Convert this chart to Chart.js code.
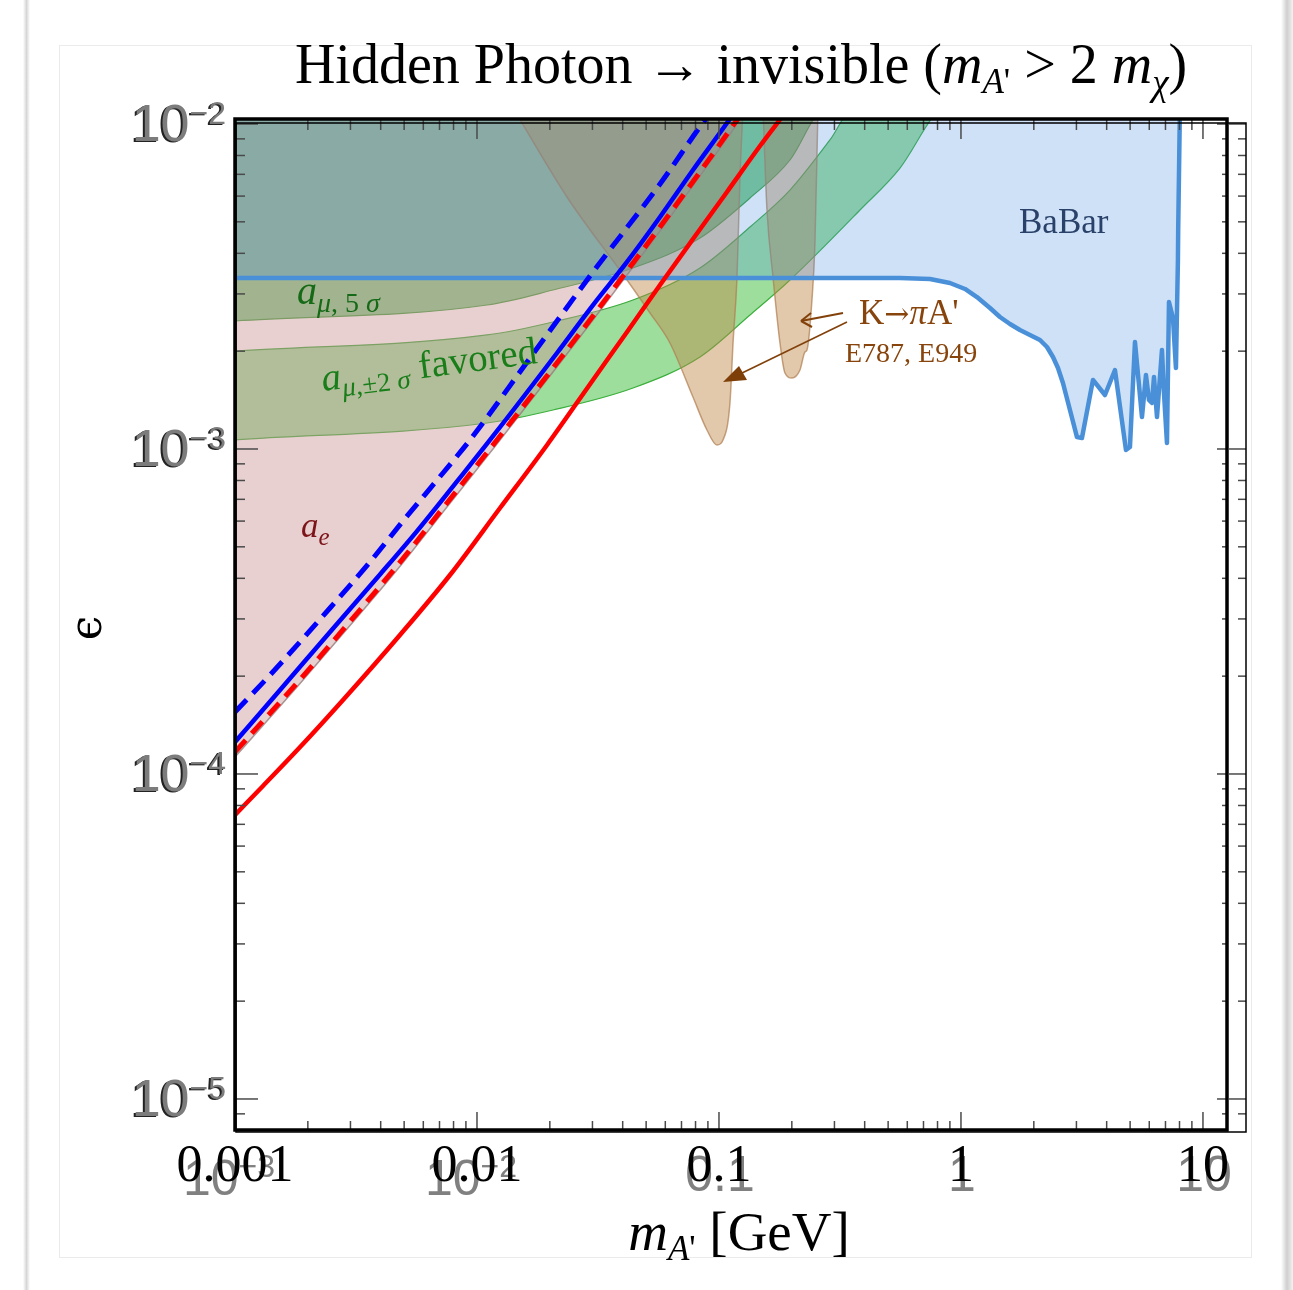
<!DOCTYPE html>
<html>
<head>
<meta charset="utf-8">
<script src="https://cdn.jsdelivr.net/npm/chart.js@4.4.0/dist/chart.umd.min.js"></script>
<style>
  html, body { margin: 0; padding: 0; background: #fff; }
  #wrap { position: relative; width: 1293px; height: 1290px; overflow: hidden; }
  .edgeL { position: absolute; left: 23px; top: 0; width: 7px; height: 1290px; background: linear-gradient(to right, #fff, #d6d6d6, #fff); }
  .edgeR { position: absolute; left: 1281px; top: 0; width: 12px; height: 1290px; background: linear-gradient(to right, #fff, #cfcfcf, #f2f2f2); }
  .card { position: absolute; left: 59px; top: 45px; width: 1191px; height: 1211px; border: 1px solid #ebebeb; }
  canvas { position: absolute; left: 0; top: 0; }
</style>
</head>
<body>
<div id="wrap">
  <div class="edgeL"></div><div class="edgeR"></div><div class="card"></div>
  <canvas id="chart" width="1293" height="1290"></canvas>
</div>
<script>
// sensitivity curves (m_A' in GeV, epsilon)
const blueDashedX = [0.001, 0.001395, 0.00247, 0.003612, 0.004945, 0.007236, 0.009356, 0.01656, 0.03015, 0.05705, 0.0875, 0.0915];
const blueDashedY = [1.552e-4, 2.016e-4, 3.242e-4, 4.490e-4, 6.003e-4, 8.437e-4, 1.066e-3, 1.905e-3, 3.504e-3, 6.538e-3, 1.029e-2, 1.073e-2];

const blueSolidX = [0.001, 0.001535, 0.00247, 0.003973, 0.005651, 0.00827, 0.01132, 0.02141, 0.03015, 0.04168, 0.05705, 0.07808, 0.1079, 0.1145];
const blueSolidY = [1.254e-4, 1.813e-4, 2.735e-4, 4.110e-4, 5.590e-4, 7.950e-4, 1.066e-3, 1.974e-3, 2.773e-3, 3.762e-3, 5.173e-3, 7.218e-3, 1.007e-2, 1.073e-2];

const redDashedX = [0.001, 0.001804, 0.002903, 0.00467, 0.007516, 0.01209, 0.02203, 0.03015, 0.04168, 0.05705, 0.08345, 0.1187, 0.1235];
const redDashedY = [1.169e-4, 1.905e-4, 2.873e-4, 4.365e-4, 6.820e-4, 1.066e-3, 1.891e-3, 2.566e-3, 3.529e-3, 4.820e-3, 7.116e-3, 1.029e-2, 1.073e-2];

const redSolidX = [0.001, 0.001305, 0.001858, 0.002795, 0.004806, 0.007734, 0.01245, 0.01948, 0.03015, 0.04168, 0.05705, 0.07808, 0.1079, 0.1477, 0.1821];
const redSolidY = [7.482e-5, 9.186e-5, 1.210e-4, 1.689e-4, 2.677e-4, 4.095e-4, 6.582e-4, 1.029e-3, 1.631e-3, 2.291e-3, 3.195e-3, 4.427e-3, 6.177e-3, 8.556e-3, 1.051e-2];

// excluded / favoured regions
const aeX = [0.001, 0.001804, 0.002903, 0.00467, 0.007516, 0.01209, 0.02203, 0.03015, 0.04168, 0.05705, 0.08345, 0.1187, 0.128];
const aeY = [1.128e-4, 1.852e-4, 2.794e-4, 4.242e-4, 6.629e-4, 1.036e-3, 1.839e-3, 2.494e-3, 3.430e-3, 4.685e-3, 6.918e-3, 1.0e-2, 0.0109];

const mu5X = [0.001, 0.0110, 0.02061, 0.0441, 0.08345, 0.1343, 0.1965, 0.2664, 0.3];
const mu5Y = [2.476e-3, 2.773e-3, 3.084e-3, 3.605e-3, 4.458e-3, 5.920e-3, 7.748e-3, 0.0112, 0.0115];

const mu2UpX = [0.001, 0.0110, 0.02061, 0.0441, 0.08345, 0.1343, 0.1965, 0.2875, 0.36, 0.9];
const mu2UpY = [2.002e-3, 2.243e-3, 2.459e-3, 2.873e-3, 3.605e-3, 4.820e-3, 6.263e-3, 8.93e-3, 0.0112, 0.0115];

const mu2LoX = [0.001, 0.0110, 0.02061, 0.0441, 0.08345, 0.1343, 0.1965, 0.3825, 0.5597, 0.82, 0.9];
const mu2LoY = [1.067e-3, 1.202e-3, 1.318e-3, 1.540e-3, 1.919e-3, 2.584e-3, 3.311e-3, 5.436e-3, 7.321e-3, 0.0112, 0.0115];

const kLeftX = [0.01409, 0.02354, 0.04168, 0.05188, 0.06272, 0.07808, 0.08919, 0.0981, 0.1039, 0.111, 0.1143, 0.1187, 0.1221, 0.1257];
const kLeftY = [0.0112, 5.963e-3, 3.311e-3, 2.621e-3, 2.119e-3, 1.445e-3, 1.144e-3, 1.029e-3, 1.066e-3, 1.385e-3, 2.119e-3, 3.382e-3, 6.868e-3, 0.0112];

const kRightX = [0.152, 0.1579, 0.1672, 0.1787, 0.1874, 0.2002, 0.2161, 0.2266, 0.231, 0.2422, 0.2492, 0.2565];
const kRightY = [0.0112, 5.436e-3, 3.382e-3, 2.119e-3, 1.713e-3, 1.654e-3, 1.750e-3, 1.988e-3, 2.016e-3, 2.873e-3, 4.302e-3, 0.0112];

const babarX = [0.001, 0.5597, 0.7447, 0.9006, 1.039, 1.164, 1.318, 1.449, 1.594, 1.753, 1.928, 2.121, 2.267, 2.400, 2.517, 2.639, 2.821, 3.016, 3.162, 3.512, 3.936, 4.329, 4.806, 4.992, 5.236, 5.597, 5.814, 5.983, 6.157, 6.275, 6.457, 6.770, 6.900, 7.100, 7.237, 7.516, 7.733, 7.88, 7.90, 8.035];
const babarY = [3.358e-3, 3.358e-3, 3.335e-3, 3.242e-3, 3.107e-3, 2.935e-3, 2.715e-3, 2.548e-3, 2.424e-3, 2.323e-3, 2.243e-3, 2.165e-3, 2.060e-3, 1.919e-3, 1.775e-3, 1.596e-3, 1.318e-3, 1.088e-3, 1.081e-3, 1.631e-3, 1.466e-3, 1.750e-3, 9.93e-4, 1.014e-3, 2.134e-3, 1.254e-3, 1.689e-3, 1.415e-3, 1.385e-3, 1.665e-3, 1.254e-3, 2.016e-3, 1.487e-3, 1.043e-3, 2.834e-3, 2.530e-3, 1.775e-3, 3.815e-3, 4.720e-3, 0.0115];

// axis ticks
const xTickValues = [0.001, 0.01, 0.1, 1, 10];
const xTickLabels = ['0.001', '0.01', '0.1', '1', '10'];
const xTickShadowBase = ['10', '10', '0.1', '1', '10'];
const xTickShadowExps = ['\u22123', '\u22122', '', '', ''];
const yTickValues = [1e-5, 1e-4, 1e-3, 1e-2];
const yTickExps = ['\u22125', '\u22124', '\u22123', '\u22122'];

const serif = '"Liberation Serif","Times New Roman",serif';
const sans = '"Liberation Sans",Arial,sans-serif';

function pts(xs, ys) { return xs.map((x, i) => ({x: x, y: ys[i]})); }

function runsWidth(ctx, runs) {
  let w = 0;
  for (const r of runs) { ctx.font = r.f; w += ctx.measureText(r.t).width; }
  return w;
}
function drawRuns(ctx, x, y, runs, align) {
  const w = runsWidth(ctx, runs);
  let cx = align === 'center' ? x - w / 2 : align === 'right' ? x - w : x;
  ctx.textAlign = 'left';
  ctx.textBaseline = 'alphabetic';
  for (const r of runs) {
    ctx.font = r.f;
    ctx.fillText(r.t, cx, y + (r.dy || 0));
    cx += ctx.measureText(r.t).width;
  }
}

const minorOf = (majors, lo, hi) => {
  const out = [];
  for (const m of majors) for (let k = 2; k <= 9; k++) { const v = m * k; if (v > lo && v < hi) out.push(v); }
  return out;
};

const decor = {
  id: 'decor',
  afterDraw(chart) {
    const {ctx, chartArea: a, scales: {x, y}} = chart;
    ctx.save();

    // ticks
    ctx.strokeStyle = '#4a4a4a';
    ctx.lineWidth = 1.5;
    const xMin = minorOf([0.001, 0.01, 0.1, 1, 10], x.min, x.max);
    const yMin = minorOf([1e-6, 1e-5, 1e-4, 1e-3], y.min, y.max);
    const seg = (x1, y1, x2, y2) => { ctx.beginPath(); ctx.moveTo(x1, y1); ctx.lineTo(x2, y2); ctx.stroke(); };
    for (const v of xTickValues) {
      const p = x.getPixelForValue(v);
      seg(p, a.bottom, p, a.bottom - 18);
      seg(p, a.top, p, a.top + 20);
    }
    for (const v of xMin) {
      const p = x.getPixelForValue(v);
      seg(p, a.bottom, p, a.bottom - 9);
      seg(p, a.top, p, a.top + 11);
    }
    const outerR = 1246;
    for (const v of yTickValues) {
      const p = y.getPixelForValue(v);
      seg(a.left, p, a.left + 23, p);
      seg(a.right, p, a.right - 10, p);
      seg(outerR, p, outerR - 17, p);
    }
    for (const v of yMin) {
      const p = y.getPixelForValue(v);
      seg(a.left, p, a.left + 10, p);
      seg(a.right, p, a.right - 5, p);
      seg(outerR, p, outerR - 8, p);
    }

    // frames
    ctx.strokeStyle = '#000';
    ctx.lineWidth = 1.5;
    ctx.strokeRect(a.left + 1, a.top + 4, outerR - a.left - 1, a.bottom + 2 - a.top - 4);
    ctx.lineWidth = 3.5;
    ctx.strokeRect(a.left, a.top, a.right - a.left, a.bottom - a.top);

    // y tick labels
    for (let i = 0; i < yTickValues.length; i++) {
      const p = y.getPixelForValue(yTickValues[i]);
      const runs = [{t: '10', f: `52px ${sans}`}, {t: yTickExps[i], f: `32px ${sans}`, dy: -17}];
      ctx.fillStyle = '#222';
      drawRuns(ctx, 224, p + 18, runs, 'right');
      ctx.fillStyle = '#7c7c7c';
      drawRuns(ctx, 226, p + 17, runs, 'right');
    }

    // x tick labels (grey overlay and black)
    for (let i = 0; i < xTickValues.length; i++) {
      const p = x.getPixelForValue(xTickValues[i]);
      ctx.fillStyle = '#808080';
      if (xTickShadowExps[i]) {
        drawRuns(ctx, p - 6, 1195, [{t: xTickShadowBase[i], f: `50px ${sans}`}, {t: xTickShadowExps[i], f: `32px ${sans}`, dy: -18}], 'center');
      } else {
        drawRuns(ctx, p + 1, 1191, [{t: xTickShadowBase[i], f: `50px ${sans}`}], 'center');
      }
      ctx.fillStyle = '#000';
      drawRuns(ctx, p, 1181, [{t: xTickLabels[i], f: `52px ${serif}`}], 'center');
    }

    // title
    ctx.fillStyle = '#000';
    drawRuns(ctx, 741, 83, [
      {t: 'Hidden Photon \u2192 invisible (', f: `56px ${serif}`},
      {t: 'm', f: `italic 56px ${serif}`},
      {t: 'A', f: `italic 35px ${serif}`, dy: 10},
      {t: "'", f: `35px ${serif}`, dy: 10},
      {t: ' > 2 ', f: `56px ${serif}`},
      {t: 'm', f: `italic 56px ${serif}`},
      {t: '\u03c7', f: `italic 37px ${serif}`, dy: 12},
      {t: ')', f: `56px ${serif}`}
    ], 'center');

    // axis titles
    drawRuns(ctx, 739, 1250, [
      {t: 'm', f: `italic 55px ${serif}`},
      {t: 'A', f: `italic 35px ${serif}`, dy: 10},
      {t: "'", f: `35px ${serif}`, dy: 10},
      {t: ' [GeV]', f: `55px ${serif}`}
    ], 'center');
    ctx.save();
    ctx.translate(90, 628);
    ctx.rotate(-Math.PI / 2);
    ctx.font = `44px "DejaVu Serif", serif`;
    ctx.textAlign = 'center';
    ctx.textBaseline = 'middle';
    ctx.fillText('\u03f5', 0, 0);
    ctx.restore();

    // region labels
    ctx.fillStyle = 'rgb(42,66,105)';
    drawRuns(ctx, 1019, 233, [{t: 'BaBar', f: `35px ${serif}`}], 'left');

    ctx.fillStyle = 'rgb(135,68,12)';
    drawRuns(ctx, 859, 324, [
      {t: 'K', f: `35px ${serif}`},
      {t: '\u2192', f: `30px "DejaVu Serif", serif`},
      {t: '\u03c0', f: `italic 35px ${serif}`},
      {t: "A'", f: `35px ${serif}`}
    ], 'left');
    drawRuns(ctx, 845, 362, [{t: 'E787, E949', f: `28px ${serif}`}], 'left');

    // arrows
    ctx.strokeStyle = 'rgb(130,65,10)';
    ctx.lineWidth = 2;
    seg(843, 313, 801, 321);
    seg(801, 321, 811, 313);
    seg(801, 321, 812, 327);
    ctx.lineWidth = 1.6;
    seg(847, 322, 740, 374);
    ctx.fillStyle = 'rgb(125,62,8)';
    ctx.beginPath();
    ctx.moveTo(723, 382);
    ctx.lineTo(739, 366);
    ctx.lineTo(747, 380);
    ctx.closePath();
    ctx.fill();

    ctx.fillStyle = 'rgb(22,105,22)';
    drawRuns(ctx, 297, 304, [
      {t: 'a', f: `italic 40px ${serif}`},
      {t: '\u03bc', f: `italic 28px ${serif}`, dy: 8},
      {t: ', 5 ', f: `28px ${serif}`, dy: 8},
      {t: '\u03c3', f: `italic 28px ${serif}`, dy: 8}
    ], 'left');

    ctx.save();
    ctx.translate(323, 391);
    ctx.rotate(-7.4 * Math.PI / 180);
    ctx.fillStyle = 'rgb(25,125,25)';
    drawRuns(ctx, 0, 0, [
      {t: 'a', f: `italic 39px ${serif}`},
      {t: '\u03bc', f: `italic 27px ${serif}`, dy: 8},
      {t: ',\u00b12 ', f: `27px ${serif}`, dy: 8},
      {t: '\u03c3', f: `italic 27px ${serif}`, dy: 8},
      {t: ' favored', f: `39px ${serif}`}
    ], 'left');
    ctx.restore();

    ctx.fillStyle = 'rgb(125,20,25)';
    drawRuns(ctx, 301, 537, [
      {t: 'a', f: `italic 35px ${serif}`},
      {t: 'e', f: `italic 25px ${serif}`, dy: 8}
    ], 'left');

    ctx.restore();
  }
};

new Chart(document.getElementById('chart'), {
  type: 'line',
  data: {
    datasets: [
      {data: pts(blueDashedX, blueDashedY), borderColor: '#0000ff', borderWidth: 5, borderDash: [17, 9], fill: false, order: 1},
      {data: pts(blueSolidX, blueSolidY), borderColor: '#0000ff', borderWidth: 4.5, fill: false, order: 2},
      {data: pts(redDashedX, redDashedY), borderColor: '#ff0000', borderWidth: 5, borderDash: [16, 9], fill: false, order: 3},
      {data: pts(redSolidX, redSolidY), borderColor: '#ff0000', borderWidth: 4.5, fill: false, order: 4},
      {data: pts(babarX, babarY), borderColor: '#4a90d9', borderWidth: 4.5, backgroundColor: 'rgba(74,144,226,0.27)', fill: 'end', order: 5,
        cubicInterpolationMode: 'default', tension: 0, borderJoinStyle: 'round'},
      {data: pts(kLeftX, kLeftY), borderColor: 'rgba(175,125,80,0.7)', borderWidth: 1.5, backgroundColor: 'rgba(190,135,70,0.45)', fill: 'end', order: 6},
      {data: pts(kRightX, kRightY), borderColor: 'rgba(175,125,80,0.7)', borderWidth: 1.5, backgroundColor: 'rgba(190,135,70,0.45)', fill: 'end', order: 7},
      {data: pts(aeX, aeY), borderColor: 'rgba(150,125,125,0.8)', borderWidth: 1.5, backgroundColor: 'rgba(205,150,150,0.45)', fill: 'end', order: 8},
      {data: pts(mu5X, mu5Y), borderColor: 'rgb(60,160,60)', borderWidth: 1.2, backgroundColor: 'rgba(40,170,60,0.6)', fill: 'end', order: 9},
      {data: pts(mu2UpX, mu2UpY), borderColor: 'rgb(60,170,60)', borderWidth: 1.2, backgroundColor: 'rgba(60,190,60,0.5)', fill: '+1', order: 10},
      {data: pts(mu2LoX, mu2LoY), borderColor: 'rgb(60,170,60)', borderWidth: 1.2, fill: false, order: 11}
    ]
  },
  options: {
    responsive: false,
    animation: false,
    devicePixelRatio: 1,
    layout: {padding: {left: 235, top: 119, right: 66, bottom: 160}},
    elements: {
      point: {radius: 0, hoverRadius: 0},
      line: {cubicInterpolationMode: 'monotone', borderCapStyle: 'butt'}
    },
    plugins: {legend: {display: false}, tooltip: {enabled: false}},
    scales: {
      x: {type: 'logarithmic', min: 0.001, max: 12.57, display: false},
      y: {type: 'logarithmic', min: 8.027e-6, max: 1.036e-2, display: false}
    }
  },
  plugins: [decor]
});
</script>
</body>
</html>
